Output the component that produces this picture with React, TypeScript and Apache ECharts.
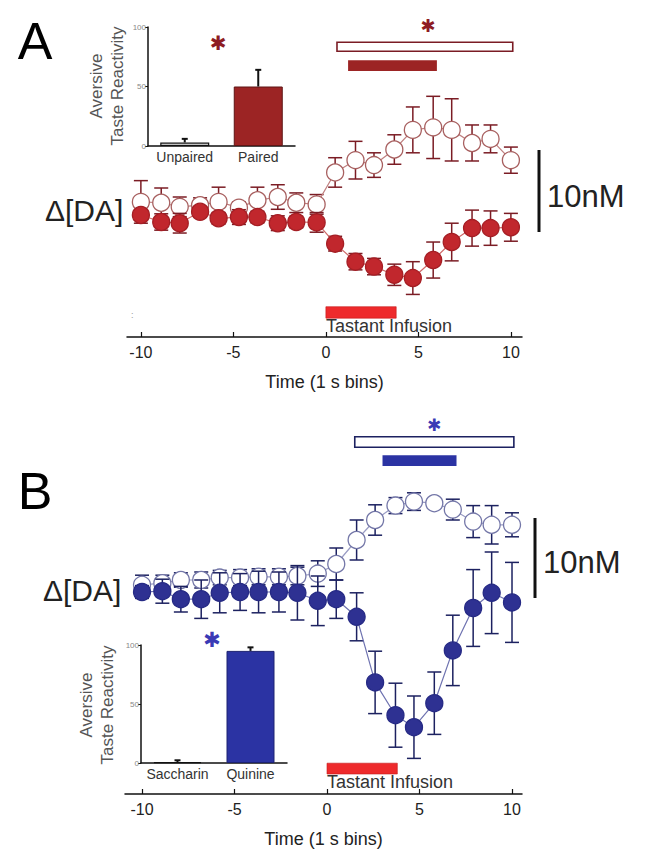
import React, { useEffect, useRef } from "react";
import * as echarts from "echarts";

// ---------- data ----------
const timeBins = [-10, -8.9, -7.9, -6.8, -5.8, -4.7, -3.7, -2.6, -1.6, -0.5, 0.5, 1.6, 2.6, 3.7, 4.7, 5.8, 6.8, 7.9, 8.9, 10];
const timeTicks = [-10, -5, 0, 5, 10];

// Panel A (nM change)
const pairedMean = [0, -0.85, -1.0, 0.4, -0.4, -0.25, -0.25, -1.0, -0.85, -0.9, -3.5, -5.7, -6.3, -7.3, -7.7, -5.5, -3.3, -1.6, -1.6, -1.5];
const pairedErr = [0.6, 1.0, 1.2, 0.6, 0.7, 0.9, 0.7, 0.9, 0.7, 1.2, 0.9, 1.0, 1.0, 1.3, 2.0, 2.2, 2.3, 2.2, 2.1, 1.7];
const unpairedMean = [1.6, 1.5, 1.0, 1.2, 1.6, 0.9, 1.8, 2.2, 1.5, 1.3, 5.2, 6.7, 6.1, 8.0, 10.4, 10.7, 10.4, 8.8, 9.3, 6.7];
const unpairedErr = [2.6, 1.8, 1.2, 0.9, 1.8, 0.7, 1.6, 1.5, 1.2, 1.2, 1.8, 2.3, 1.5, 1.8, 2.8, 3.8, 3.8, 2.2, 1.7, 1.6];

// Panel B (nM change)
const quinineMean = [0, 0.1, -0.9, -0.9, -0.1, 0, 0, 0, -0.1, -1.1, -0.9, -3.1, -11.3, -15.4, -16.9, -13.9, -7.3, -2.0, -0.1, -1.3];
const quinineErr = [0.8, 1.5, 1.6, 2.4, 2.5, 2.3, 2.6, 2.5, 3.4, 3.1, 2.4, 3.0, 3.9, 4.0, 3.9, 3.9, 4.4, 4.8, 5.1, 5.0];
const saccharinMean = [0.9, 1.1, 1.5, 1.5, 1.8, 1.8, 1.9, 1.9, 2.0, 2.3, 3.5, 6.5, 9.0, 10.8, 11.3, 11.1, 10.3, 8.8, 8.4, 8.4];
const saccharinErr = [1.2, 1.0, 0.9, 1.0, 0.9, 1.0, 1.0, 1.0, 1.1, 1.6, 2.0, 2.5, 1.9, 1.0, 1.1, 0.4, 1.3, 2.0, 2.4, 1.5];

// Insets (aversive taste reactivity)
const insetACats = ["Unpaired", "Paired"];
const insetAVals = [3, 50];
const insetAErr = [3, 14];
const insetBCats = ["Saccharin", "Quinine"];
const insetBVals = [0.8, 95];
const insetBErr = [1.5, 3];
const insetTicks = [0, 50, 100];

// Time ranges of annotations (s)
const infusionRange = [0, 3.8];
const sigAOpen = [0.6, 10.1];
const sigAFilled = [1.2, 6.0];
const sigBOpen = [1.5, 10.1];
const sigBFilled = [3.0, 7.0];

// ---------- styles ----------
const FONT = '"Liberation Sans", Arial, Helvetica, sans-serif';
const RED_FILL = "#c1272d";
const RED_DARK = "#7b1c24";
const RED_BAR = "#9c2424";
const RED_OPEN = "#a86060";
const BLUE_FILL = "#2e3192";
const BLUE_DARK = "#1c2160";
const BLUE_BAR = "#2b33a3";
const BLUE_OPEN = "#7477a8";
const INFUSION = "#ee2a2c";

function errSeries(xIdx: number, xs: number[], mean: number[], err: number[], color: string, capHalf: number, z: number) {
  return {
    type: "custom",
    xAxisIndex: xIdx,
    yAxisIndex: xIdx,
    z,
    silent: true,
    data: xs.map((x, i) => [x, mean[i] - err[i], mean[i] + err[i]]),
    encode: { x: 0, y: [1, 2] },
    renderItem: (params: any, api: any) => {
      const x = api.value(0);
      const a = api.coord([x, api.value(1)]);
      const b = api.coord([x, api.value(2)]);
      const st = { stroke: color, lineWidth: 1.5 };
      return {
        type: "group",
        children: [
          { type: "line", shape: { x1: a[0], y1: a[1], x2: b[0], y2: b[1] }, style: st },
          { type: "line", shape: { x1: a[0] - capHalf, y1: a[1], x2: a[0] + capHalf, y2: a[1] }, style: st },
          { type: "line", shape: { x1: b[0] - capHalf, y1: b[1], x2: b[0] + capHalf, y2: b[1] }, style: st },
        ],
      };
    },
  };
}

function insetErrSeries(idx: number, vals: number[], err: number[]) {
  return {
    type: "custom",
    xAxisIndex: idx,
    yAxisIndex: idx,
    z: 5,
    silent: true,
    data: vals.map((v, i) => [i, v, v + err[i]]),
    encode: { x: 0, y: [1, 2] },
    renderItem: (params: any, api: any) => {
      const i = api.value(0);
      const a = api.coord([i, api.value(1)]);
      const b = api.coord([i, api.value(2)]);
      const st = { stroke: "#111", lineWidth: 2 };
      return {
        type: "group",
        children: [
          { type: "line", shape: { x1: a[0], y1: a[1], x2: b[0], y2: b[1] }, style: st },
          { type: "line", shape: { x1: b[0] - 3, y1: b[1], x2: b[0] + 3, y2: b[1] }, style: st },
        ],
      };
    },
  };
}

function circleSeries(xIdx: number, xs: number[], mean: number[], fill: string, border: string, line: string, z: number, name: string) {
  return {
    type: "line",
    name,
    xAxisIndex: xIdx,
    yAxisIndex: xIdx,
    z,
    data: xs.map((x, i) => [x, mean[i]]),
    symbol: "circle",
    symbolSize: 17,
    showSymbol: true,
    silent: true,
    itemStyle: { color: fill, borderColor: border, borderWidth: 1.3, opacity: 1 },
    lineStyle: { color: line, width: 1.2 },
  };
}

function mainXAxis(gridIndex: number, min: number, max: number) {
  return {
    type: "value",
    gridIndex,
    min,
    max,
    splitLine: { show: false },
    axisLine: { show: true, onZero: false, lineStyle: { color: "#111", width: 1.5 } },
    axisTick: { show: true, inside: true, length: 5, customValues: timeTicks, lineStyle: { color: "#111", width: 1.2 } },
    axisLabel: { show: true, customValues: timeTicks, fontSize: 16, color: "#222", fontFamily: FONT, margin: 7 },
    name: "Time (1 s bins)",
    nameLocation: "middle",
    nameGap: 36,
    nameTextStyle: { fontSize: 18, color: "#222", fontFamily: FONT },
  };
}

function insetXAxis(gridIndex: number, cats: string[]) {
  return {
    type: "category",
    gridIndex,
    data: cats,
    axisLine: { show: true, lineStyle: { color: "#111", width: 1.5 } },
    axisTick: { show: false },
    axisLabel: { interval: 0, hideOverlap: false, fontSize: 14, color: "#333", fontFamily: FONT, margin: 4 },
  };
}

function insetYAxis(gridIndex: number) {
  return {
    type: "value",
    gridIndex,
    min: 0,
    max: 100,
    interval: 50,
    splitLine: { show: false },
    axisLine: { show: true, lineStyle: { color: "#111", width: 1.5 } },
    axisTick: { show: true, length: 3, lineStyle: { color: "#111" } },
    axisLabel: { fontSize: 8, color: "#888", fontFamily: FONT, margin: 2, customValues: insetTicks },
  };
}

function annotations(openR: number[], filledR: number[], yOpen: number[], yFilled: number[], yInf: number[], openBorder: string, filledColor: string) {
  return {
    silent: true,
    label: { show: false },
    data: [
      [
        { xAxis: openR[0], yAxis: yOpen[0], itemStyle: { color: "#ffffff", borderColor: openBorder, borderWidth: 1.6, opacity: 1 } },
        { xAxis: openR[1], yAxis: yOpen[1] },
      ],
      [
        { xAxis: filledR[0], yAxis: yFilled[0], itemStyle: { color: filledColor, borderWidth: 0, opacity: 1 } },
        { xAxis: filledR[1], yAxis: yFilled[1] },
      ],
      [
        { xAxis: infusionRange[0], yAxis: yInf[0], itemStyle: { color: INFUSION, borderColor: "#c41a1a", borderWidth: 0.6, opacity: 1 } },
        { xAxis: infusionRange[1], yAxis: yInf[1] },
      ],
    ],
  };
}

function txt(text: string, x: number, y: number, fontSize: number, fill: string, align = "left", extra: any = {}) {
  return {
    type: "text",
    x,
    y,
    silent: true,
    ...extra,
    style: {
      text,
      fontSize,
      fontFamily: FONT,
      fill,
      align,
      textAlign: align,
      verticalAlign: "middle",
      textVerticalAlign: "middle",
      ...(extra.style || {}),
    },
  };
}

const STAR_FONT = { style: { fontFamily: '"DejaVu Sans", sans-serif' } };

export default function App() {
  const ref = useRef<HTMLDivElement>(null);

  useEffect(() => {
    if (!ref.current) return;
    const chart = echarts.init(ref.current, undefined, { renderer: "svg" });

    const fillASeries: any = circleSeries(0, timeBins, pairedMean, RED_FILL, "#a51e24", "#cf6a6a", 5, "Paired");
    fillASeries.markArea = annotations(sigAOpen, sigAFilled, [21.1, 20.0], [18.9, 17.6], [-11.2, -12.6], RED_DARK, RED_BAR);
    const fillBSeries: any = circleSeries(2, timeBins, quinineMean, BLUE_FILL, "#262a85", "#6e72b0", 5, "Quinine");
    fillBSeries.markArea = annotations(sigBOpen, sigBFilled, [19.4, 18.1], [17.1, 15.75], [-21.4, -22.75], BLUE_DARK, BLUE_BAR);

    const option: any = {
      animation: false,
      backgroundColor: "#ffffff",
      textStyle: { fontFamily: FONT },
      grid: [
        { left: 127, top: 30, width: 395, height: 307 },
        { left: 148, top: 27, width: 147, height: 119 },
        { left: 125, top: 432, width: 397, height: 362 },
        { left: 141, top: 645, width: 146, height: 118 },
      ],
      xAxis: [
        mainXAxis(0, -10.75, 10.6),
        insetXAxis(1, insetACats),
        mainXAxis(2, -10.92, 10.54),
        insetXAxis(3, insetBCats),
      ],
      yAxis: [
        { type: "value", gridIndex: 0, min: -14.9, max: 22.6, show: false },
        insetYAxis(1),
        { type: "value", gridIndex: 2, min: -25.25, max: 20, show: false },
        insetYAxis(3),
      ],
      series: [
        // Panel A
        errSeries(0, timeBins, unpairedMean, unpairedErr, RED_DARK, 7, 2),
        circleSeries(0, timeBins, unpairedMean, "#ffffff", RED_OPEN, "#c08080", 3, "Unpaired"),
        errSeries(0, timeBins, pairedMean, pairedErr, RED_DARK, 7, 4),
        fillASeries,
        // Inset A
        {
          type: "bar",
          xAxisIndex: 1,
          yAxisIndex: 1,
          barWidth: 49,
          silent: true,
          data: insetAVals.map((v, i) => ({
            value: v,
            itemStyle: i === 0 ? { color: "#ffffff", borderColor: "#111", borderWidth: 1.2 } : { color: RED_BAR, borderColor: "#5e1414", borderWidth: 1 },
          })),
        },
        insetErrSeries(1, insetAVals, insetAErr),
        // Panel B
        errSeries(2, timeBins, saccharinMean, saccharinErr, BLUE_DARK, 7, 2),
        circleSeries(2, timeBins, saccharinMean, "#ffffff", BLUE_OPEN, "#9a9cc4", 3, "Saccharin"),
        errSeries(2, timeBins, quinineMean, quinineErr, BLUE_DARK, 7, 4),
        fillBSeries,
        // Inset B
        {
          type: "bar",
          xAxisIndex: 3,
          yAxisIndex: 3,
          barWidth: 48,
          silent: true,
          data: insetBVals.map((v, i) => ({
            value: v,
            itemStyle: i === 0 ? { color: "#ffffff", borderColor: "#111", borderWidth: 1.2 } : { color: BLUE_BAR, borderColor: "#1c2270", borderWidth: 1 },
          })),
        },
        insetErrSeries(3, insetBVals, insetBErr),
      ],
      graphic: [
        // Panel letters
        txt("A", 35, 41, 52, "#000", "center"),
        txt("B", 35, 491, 52, "#000", "center"),
        // Δ[DA] labels
        txt("Δ[DA]", 45, 210, 30, "#222"),
        txt("Δ[DA]", 43, 590, 30, "#222"),
        // scale bars
        { type: "line", silent: true, shape: { x1: 539, y1: 150, x2: 539, y2: 232 }, style: { stroke: "#111", lineWidth: 3 } },
        { type: "line", silent: true, shape: { x1: 535, y1: 518, x2: 535, y2: 598 }, style: { stroke: "#111", lineWidth: 3 } },
        txt("10nM", 547, 196, 31, "#222"),
        txt("10nM", 543, 562, 31, "#222"),
        // infusion labels
        txt("Tastant Infusion", 326, 326, 18, "#333"),
        txt("Tastant Infusion", 327, 782, 18, "#333"),
        txt(":", 131, 315, 9, "#999"),
        // asterisks
        txt("✱", 428, 25, 18, "#8e1c22", "center", STAR_FONT),
        txt("✱", 218, 43, 20, "#8e1c22", "center", STAR_FONT),
        txt("✱", 434, 425, 17, "#3a3ab5", "center", STAR_FONT),
        txt("✱", 212, 640, 21, "#3a3ab5", "center", STAR_FONT),
        // inset y titles
        txt("Aversive\nTaste Reactivity", 107, 86, 17, "#555", "center", { rotation: Math.PI / 2, style: { lineHeight: 21 } }),
        txt("Aversive\nTaste Reactivity", 97, 705, 17, "#555", "center", { rotation: Math.PI / 2, style: { lineHeight: 21 } }),
      ],
    };

    chart.setOption(option);
    return () => chart.dispose();
  }, []);

  return (
    <div
      ref={ref}
      style={{ position: "absolute", left: 0, top: 0, width: 645, height: 864, background: "#fff" }}
    />
  );
}
